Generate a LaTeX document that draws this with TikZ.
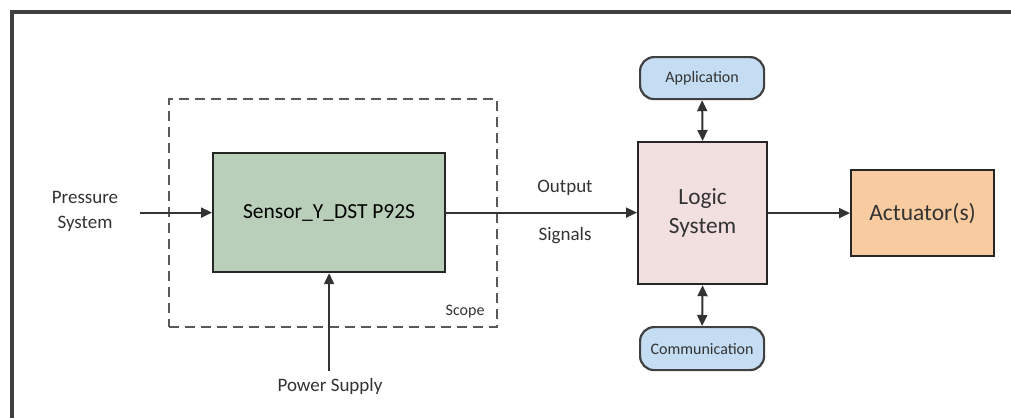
\documentclass[tikz,border=0pt]{standalone}
\usepackage{fontspec}
\setmainfont{Carlito}
\usetikzlibrary{arrows.meta}
\definecolor{sensorgreen}{HTML}{B9CFB9}
\definecolor{logicpink}{HTML}{F2DFDF}
\definecolor{actorange}{HTML}{F9CBA0}
\definecolor{appblue}{HTML}{C5DDF3}
\definecolor{txtgray}{HTML}{333333}
\begin{document}
\begin{tikzpicture}[x=1pt,y=-1pt,
  box/.style={draw=black!85, line width=2.2pt, inner sep=0pt, anchor=north west},
  pill/.style={draw=black!75, line width=2.2pt, rounded corners=14pt, fill=appblue, inner sep=0pt, anchor=north west, text=txtgray, font=\fontsize{16}{18}\selectfont},
  conn/.style={line width=2pt, draw=black!80, -{Triangle[length=11pt,width=10pt]}},
  dconn/.style={line width=2pt, draw=black!80, {Triangle[length=11pt,width=10pt]}-{Triangle[length=11pt,width=10pt]}},
  lbl/.style={text=txtgray, align=center, font=\fontsize{19}{25}\selectfont}
]
\useasboundingbox (0,0) rectangle (1011,418);
\fill[white] (0,0) rectangle (1011,418);
% outer frame
\draw[line width=4pt, draw=black!75] (12,418) -- (12,12) -- (1011,12);
% scope
\node[draw=black!65, dash pattern=on 10pt off 6pt, line width=2.2pt, minimum width=328pt, minimum height=228pt, anchor=north west, inner sep=0pt] (scope) at (168,98) {};
\node[lbl, font=\fontsize{16}{18}\selectfont, anchor=east] (scopelbl) at (488,312) {Scope};
% sensor
\node[box, fill=sensorgreen, minimum width=232pt, minimum height=119pt, font=\fontsize{21.5}{24}\selectfont] (sensor) at (212,152) {Sensor\_Y\_DST P92S};
% logic
\node[box, fill=logicpink, minimum width=129pt, minimum height=142pt, text=txtgray, align=center, font=\fontsize{23.3}{29}\selectfont] (logic) at (637,141) {Logic\\System};
% actuator
\node[box, fill=actorange, minimum width=143pt, minimum height=86pt, text=txtgray, font=\fontsize{23.5}{26}\selectfont] (act) at (850,169) {Actuator(s)};
% application / communication
\node[pill, minimum width=124pt, minimum height=42pt] (app) at (639,56) {Application};
\node[pill, minimum width=124pt, minimum height=43pt] (comm) at (639,326) {Communication};
% labels
\node[lbl] (press) at (85,211) {Pressure\\System};
\node[lbl] (power) at (330,386) {Power Supply};
\node[lbl] (out) at (565,188) {Output};
\node[lbl] (sig) at (565,236) {Signals};
\coordinate (pin) at (140,211);
\coordinate (pwr) at (330,371);
% connectors
\draw[conn] (pin |- sensor.west) -- (sensor.west);
\draw[conn] (sensor.south |- pwr) -- (sensor.south);
\draw[conn] (sensor.east) -- (sensor.east -| logic.west);
\draw[conn] (logic.east |- act.west) -- (act.west);
\draw[dconn] (app.south) -- (logic.north);
\draw[dconn] (logic.south) -- (comm.north);
\end{tikzpicture}
\end{document}
